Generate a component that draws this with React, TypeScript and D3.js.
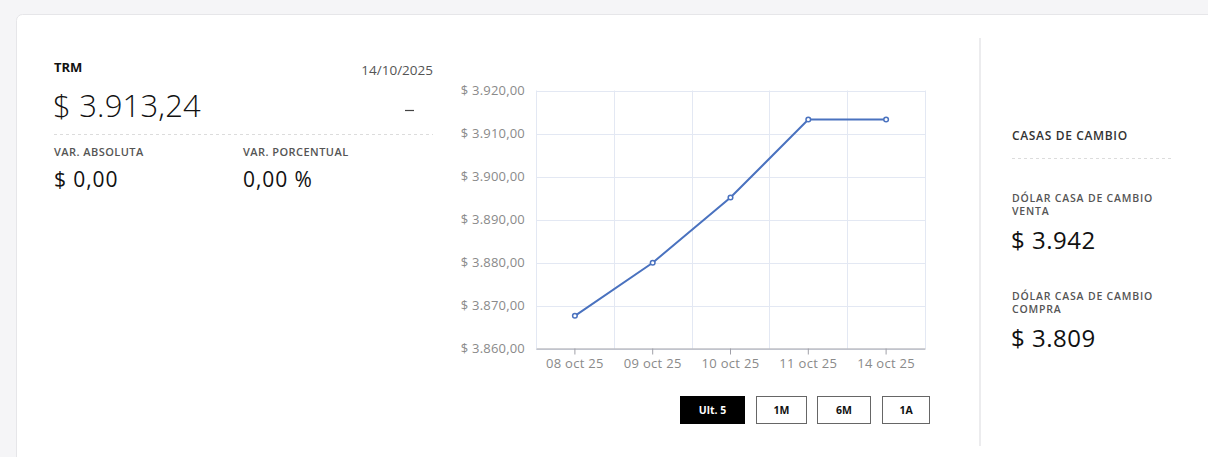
import React, { useEffect, useRef } from 'react';
import * as d3 from 'd3';

// Datos de la serie TRM (últimos 5 días)
const fechas = ['08 oct 25', '09 oct 25', '10 oct 25', '11 oct 25', '14 oct 25'];
const trm = [3867.6, 3879.95, 3895.1, 3913.24, 3913.24];
const yTicks = [3860, 3870, 3880, 3890, 3900, 3910, 3920];
const rangos = ['Ult. 5', '1M', '6M', '1A'];

const FONT = "'Open Sans', sans-serif";

const locale = d3.formatLocale({
  decimal: ',',
  thousands: '.',
  grouping: [3],
  currency: ['$ ', ''],
});
const fmtMoney = locale.format('$,.2f');

const App = () => {
  const chartRef = useRef<SVGSVGElement>(null);

  useEffect(() => {
    const width = 1208;
    const height = 457;

    const svg = d3.select(chartRef.current);
    svg.selectAll('*').remove();
    svg.attr('width', width).attr('height', height);

    // Fondo y tarjeta
    svg.append('rect').attr('width', width).attr('height', height).attr('fill', '#f5f5f7');
    svg.append('rect')
      .attr('x', 16.5).attr('y', 14.5)
      .attr('width', width + 20).attr('height', height + 20)
      .attr('rx', 6)
      .attr('fill', '#fff')
      .attr('stroke', '#e6e6e9');

    // ---------- Panel izquierdo ----------
    const left = svg.append('g').style('font-family', FONT);
    left.append('text').attr('x', 54).attr('y', 72)
      .attr('font-size', 13).attr('font-weight', 700).attr('fill', '#111').text('TRM');
    left.append('text').attr('x', 433).attr('y', 74.5).attr('text-anchor', 'end')
      .attr('font-size', 13.5).attr('fill', '#555').text('14/10/2025');
    left.append('text').attr('x', 53).attr('y', 117)
      .attr('font-size', 31).attr('font-weight', 300).attr('letter-spacing', 0.2)
      .attr('fill', '#111').text(fmtMoney(trm[trm.length - 1]));
    left.append('line').attr('x1', 405).attr('x2', 414).attr('y1', 110.5).attr('y2', 110.5)
      .attr('stroke', '#444').attr('stroke-width', 1.2);
    left.append('line').attr('x1', 54).attr('x2', 433).attr('y1', 134.5).attr('y2', 134.5)
      .attr('stroke', '#dcdcdc').attr('stroke-dasharray', '3,3');

    const vars = [
      { x: 54, label: 'VAR. ABSOLUTA', value: '$ 0,00' },
      { x: 243, label: 'VAR. PORCENTUAL', value: '0,00 %' },
    ];
    vars.forEach(v => {
      left.append('text').attr('x', v.x).attr('y', 156)
        .attr('font-size', 11).attr('font-weight', 600).attr('letter-spacing', 0.45)
        .attr('fill', '#555').text(v.label);
      left.append('text').attr('x', v.x).attr('y', 186.5)
        .attr('font-size', 21).attr('letter-spacing', 0.9).attr('fill', '#111').text(v.value);
    });

    // ---------- Gráfico ----------
    const plot = { left: 536, right: 925, top: 90.5, bottom: 348.5 };

    const xScale = d3.scaleBand()
      .domain(fechas)
      .range([plot.left, plot.right]);

    const yScale = d3.scaleLinear()
      .domain([3860, 3920])
      .range([plot.bottom, plot.top]);

    const grid = svg.append('g').attr('stroke', '#e3e8f3').attr('stroke-width', 1);
    grid.selectAll('line.h')
      .data(yTicks)
      .enter()
      .append('line')
      .attr('x1', plot.left).attr('x2', plot.right)
      .attr('y1', d => Math.round(yScale(d)) + 0.5)
      .attr('y2', d => Math.round(yScale(d)) + 0.5);
    const bounds = fechas.map(f => xScale(f) as number).concat([plot.right]);
    grid.selectAll('line.v')
      .data(bounds)
      .enter()
      .append('line')
      .attr('x1', d => Math.round(d) + 0.5).attr('x2', d => Math.round(d) + 0.5)
      .attr('y1', plot.top).attr('y2', plot.bottom);

    // Eje Y
    const yAxis = svg.append('g')
      .attr('transform', `translate(${plot.left},0)`)
      .call(d3.axisLeft(yScale).tickValues(yTicks).tickSize(0).tickPadding(11).tickFormat(d => fmtMoney(d as number)));
    yAxis.select('.domain').remove();
    yAxis.selectAll('text').attr('fill', '#8a8a8a').attr('font-size', 13)
      .attr('letter-spacing', 0.2).attr('font-family', FONT);

    // Eje X
    const xAxis = svg.append('g')
      .attr('transform', `translate(0,${plot.bottom})`)
      .call(d3.axisBottom(xScale).tickSize(6).tickPadding(4).tickSizeOuter(0));
    xAxis.select('.domain').attr('stroke', '#a0a0a8');
    xAxis.selectAll('line').attr('stroke', '#a0a0a8');
    xAxis.selectAll('text').attr('fill', '#8a8a8a').attr('font-size', 13)
      .attr('letter-spacing', 0.3).attr('font-family', FONT);

    // Línea
    const cx = (i: number) => (xScale(fechas[i]) as number) + xScale.bandwidth() / 2;
    const line = d3.line<number>()
      .x((_, i) => cx(i))
      .y(d => yScale(d));

    svg.append('path')
      .datum(trm)
      .attr('d', line)
      .attr('fill', 'none')
      .attr('stroke', '#4a72bf')
      .attr('stroke-width', 2);

    svg.selectAll('circle.pt')
      .data(trm)
      .enter()
      .append('circle')
      .attr('cx', (_, i) => cx(i))
      .attr('cy', d => yScale(d))
      .attr('r', 2.3)
      .attr('fill', '#fff')
      .attr('stroke', '#4a72bf')
      .attr('stroke-width', 1.5);

    // Botones de rango
    const btnX = [680, 756, 817, 882];
    const btnW = [64, 50, 53, 47];
    const btns = svg.append('g').style('font-family', FONT);
    rangos.forEach((r, i) => {
      const active = i === 0;
      btns.append('rect')
        .attr('x', btnX[i] + 0.5).attr('y', 396.5)
        .attr('width', btnW[i]).attr('height', 27)
        .attr('fill', active ? '#000' : '#fff')
        .attr('stroke', active ? '#000' : '#666');
      btns.append('text')
        .attr('x', btnX[i] + btnW[i] / 2 + 0.5).attr('y', 414)
        .attr('text-anchor', 'middle')
        .attr('font-size', 10.5).attr('font-weight', 700)
        .attr('fill', active ? '#fff' : '#111')
        .text(r);
    });

    // ---------- Panel derecho ----------
    svg.append('line').attr('x1', 980).attr('x2', 980).attr('y1', 38).attr('y2', 446)
      .attr('stroke', '#ececee').attr('stroke-width', 2);

    const right = svg.append('g').style('font-family', FONT);
    right.append('text').attr('x', 1012).attr('y', 140)
      .attr('font-size', 12).attr('font-weight', 600).attr('letter-spacing', 0.65)
      .attr('fill', '#333').text('CASAS DE CAMBIO');
    right.append('line').attr('x1', 1012).attr('x2', 1172).attr('y1', 158.5).attr('y2', 158.5)
      .attr('stroke', '#dcdcdc').attr('stroke-dasharray', '3,3');

    const casas = [
      { l2: 'VENTA', value: '$ 3.942', y: 202 },
      { l2: 'COMPRA', value: '$ 3.809', y: 300 },
    ];
    casas.forEach(c => {
      right.append('text').attr('x', 1012).attr('y', c.y)
        .attr('font-size', 10.5).attr('font-weight', 600).attr('letter-spacing', 0.8)
        .attr('fill', '#555').text('DÓLAR CASA DE CAMBIO');
      right.append('text').attr('x', 1012).attr('y', c.y + 13)
        .attr('font-size', 10.5).attr('font-weight', 600).attr('letter-spacing', 0.8)
        .attr('fill', '#555').text(c.l2);
      right.append('text').attr('x', 1011).attr('y', c.y + 47)
        .attr('font-size', 24).attr('font-weight', 500).attr('letter-spacing', 0.5)
        .attr('fill', '#111').text(c.value);
    });
  }, []);

  return (
    <svg
      ref={chartRef}
      style={{ position: 'absolute', left: 0, top: 0, display: 'block' }}
    />
  );
};

export default App;
